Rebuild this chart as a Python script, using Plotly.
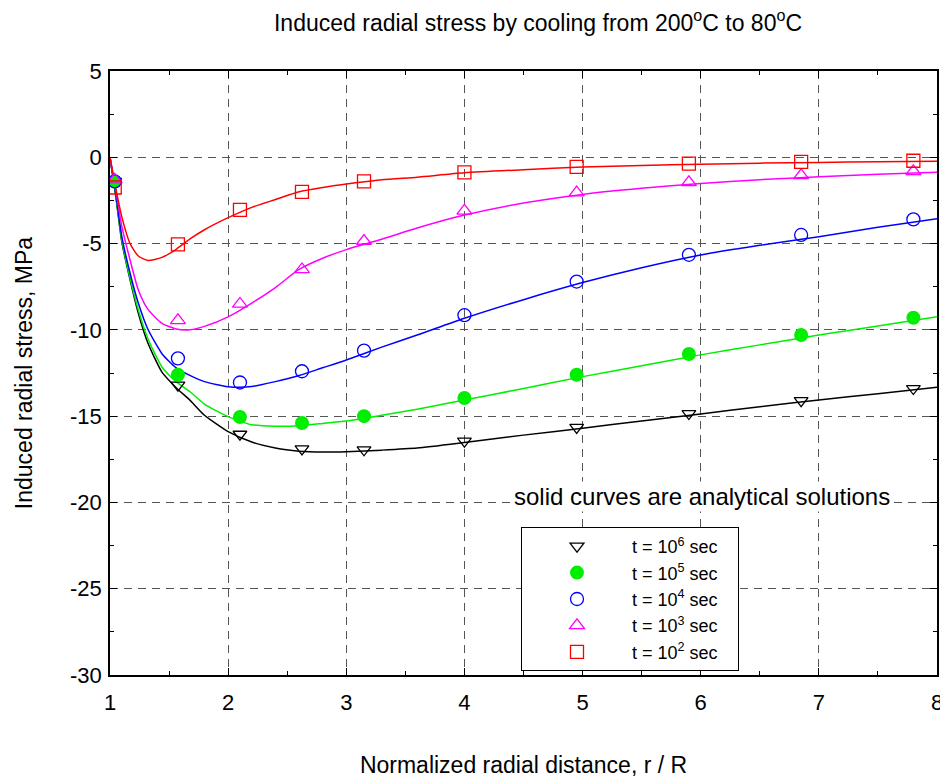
import plotly.graph_objects as go

# ---- data ----
r_pts = [1.04, 1.575, 2.1, 2.625, 3.15, 4.0, 4.95, 5.9, 6.85, 7.8]
pts_1e6 = [-1.4, -13.2, -16.05, -16.9, -16.95, -16.45, -15.65, -14.85, -14.1, -13.4]
pts_1e5 = [-1.4, -12.6, -15.05, -15.4, -15.0, -13.95, -12.6, -11.4, -10.3, -9.3]
pts_1e4 = [-1.4, -11.65, -13.05, -12.4, -11.2, -9.15, -7.2, -5.65, -4.5, -3.6]
pts_1e3 = [-1.3, -9.45, -8.5, -6.5, -4.85, -3.1, -2.05, -1.45, -1.05, -0.82]
pts_1e2 = [-1.75, -5.05, -3.05, -2.0, -1.4, -0.87, -0.55, -0.37, -0.27, -0.2]

r_curve = [1.0, 1.05, 1.1, 1.17, 1.24, 1.32, 1.44, 1.56, 1.68, 1.8, 2.0, 2.2, 2.4,
           2.6, 2.8, 3.0, 3.3, 3.6, 4.0, 4.5, 5.0, 5.5, 6.0, 6.5, 7.0, 7.5, 8.0]
curve_1e6 = [0, -2.3, -4.9, -7.1, -9.04, -10.75, -12.45, -13.35, -14.1, -14.95, -15.9,
             -16.5, -16.85, -17.03, -17.08, -17.06, -16.97, -16.85, -16.53, -16.1,
             -15.7, -15.28, -14.87, -14.46, -14.06, -13.7, -13.33]
curve_1e5 = [0, -2.3, -4.8, -7.0, -8.85, -10.5, -12.15, -13.0, -13.6, -14.3, -15.03,
             -15.5, -15.58, -15.55, -15.42, -15.28, -14.95, -14.6, -14.06, -13.4,
             -12.71, -12.08, -11.45, -10.87, -10.3, -9.77, -9.24]
curve_1e4 = [0, -2.2, -4.6, -6.72, -8.46, -9.95, -11.38, -12.2, -12.65, -13.0, -13.29,
             -13.28, -13.0, -12.65, -12.2, -11.75, -11.0, -10.3, -9.33, -8.25,
             -7.26, -6.4, -5.66, -5.1, -4.6, -4.05, -3.56]
curve_1e3 = [0, -1.9, -4.0, -5.95, -7.69, -8.8, -9.62, -9.95, -10.0, -9.8, -9.25,
             -8.45, -7.55, -6.5, -5.85, -5.35, -4.75, -4.1, -3.35, -2.65,
             -2.15, -1.8, -1.52, -1.3, -1.13, -0.98, -0.87]
curve_1e2 = [0, -1.85, -3.45, -5.0, -5.72, -5.98, -5.8, -5.33, -4.72, -4.2, -3.5,
             -2.9, -2.45, -2.0, -1.75, -1.55, -1.3, -1.15, -0.9, -0.72,
             -0.57, -0.47, -0.4, -0.34, -0.3, -0.26, -0.23]

series_names = ["t = 10<sup>6</sup> sec", "t = 10<sup>5</sup> sec", "t = 10<sup>4</sup> sec",
                "t = 10<sup>3</sup> sec", "t = 10<sup>2</sup> sec"]
x_ticks = [1, 2, 3, 4, 5, 6, 7, 8]
x_ticktext = ["1", "2", "3", "4", "5", "6", "7", "8"]
y_ticks = [5, 0, -5, -10, -15, -20, -25, -30]
y_ticktext = ["5", "0", "-5", "-10", "-15", "-20", "-25", "-30"]

FONT = "Liberation Sans, Arial, Helvetica, sans-serif"
PAD = "\u00a0\u00a0\u00a0"

# page body has an 8px margin, so figure coords = window coords - 8
OFF = 8
W, H = 948, 781
PL, PT, PW, PH = 110 - OFF, 71 - OFF, 827, 604

styles = [
    dict(color="black", symbol="triangle-down-open", size=12, fill=False),
    dict(color="#00ee00", symbol="circle", size=14, fill=True),
    dict(color="#0000ff", symbol="circle-open", size=13, fill=False),
    dict(color="#ff00ff", symbol="triangle-up-open", size=13, fill=False),
    dict(color="#ff0000", symbol="square-open", size=13, fill=False),
]
curves = [curve_1e6, curve_1e5, curve_1e4, curve_1e3, curve_1e2]
points = [pts_1e6, pts_1e5, pts_1e4, pts_1e3, pts_1e2]

fig = go.Figure()
for st, cv in zip(styles, curves):
    fig.add_trace(go.Scatter(
        x=r_curve, y=cv, mode="lines", showlegend=False, hoverinfo="skip",
        line=dict(color=st["color"], width=1.5, shape="spline", smoothing=0.6)))
for st, pv, nm in zip(styles, points, series_names):
    fig.add_trace(go.Scatter(
        x=r_pts, y=pv, mode="markers", name=nm + PAD,
        marker=dict(color=st["color"], symbol=st["symbol"], size=st["size"],
                    line=dict(color=st["color"], width=0 if st["fill"] else 1.3))))

axis_common = dict(
    showline=True, linecolor="black", linewidth=1.5, mirror="allticks",
    ticks="inside", ticklen=7, tickwidth=1, tickcolor="black",
    showgrid=True, gridcolor="#555555", gridwidth=1, griddash="8px,6px",
    zeroline=False, automargin=False,
    tickfont=dict(family=FONT, size=22, color="black"),
)

def px_x(wx):
    return (wx - OFF - PL) / PW

def px_y(wy):
    return (PT + PH - (wy - OFF)) / PH

fig.update_layout(
    width=W, height=H,
    margin=dict(l=PL, r=W - PL - PW, t=PT, b=H - PT - PH),
    paper_bgcolor="white", plot_bgcolor="white",
    font=dict(family=FONT, color="black"),
    title=dict(text="Induced radial stress by cooling from 200<sup>o</sup>C to 80<sup>o</sup>C",
               x=(538 - OFF) / W, xanchor="center", xref="container",
               y=1 - (23 - OFF) / H, yanchor="middle", yref="container",
               font=dict(family=FONT, size=23, color="black")),
    xaxis=dict(range=[1, 8], tickvals=x_ticks, ticktext=x_ticktext, ticklabelstandoff=7,
               title=dict(text="Normalized radial distance, r / R",
                          font=dict(family=FONT, size=23), standoff=43),
               minor=dict(dtick=0.5, ticks="inside", ticklen=4, tickcolor="black", showgrid=False),
               **axis_common),
    yaxis=dict(range=[-30, 5], tickvals=y_ticks, ticktext=y_ticktext, ticklabelstandoff=2,
               title=dict(text="Induced radial stress, MPa",
                          font=dict(family=FONT, size=23), standoff=31),
               minor=dict(dtick=2.5, ticks="inside", ticklen=4, tickcolor="black", showgrid=False),
               **axis_common),
    legend=dict(x=px_x(521), y=px_y(527), xanchor="left", yanchor="top",
                bgcolor="white", bordercolor="black", borderwidth=1,
                font=dict(family=FONT, size=18, color="black"), itemwidth=100,
                tracegroupgap=0),
    annotations=[dict(text="solid curves are analytical solutions",
                      x=px_x(702), y=px_y(497), xref="paper", yref="paper",
                      xanchor="center", yanchor="middle",
                      showarrow=False, bgcolor="white",
                      font=dict(family=FONT, size=24, color="black"))],
)

fig.write_html("out.html")
